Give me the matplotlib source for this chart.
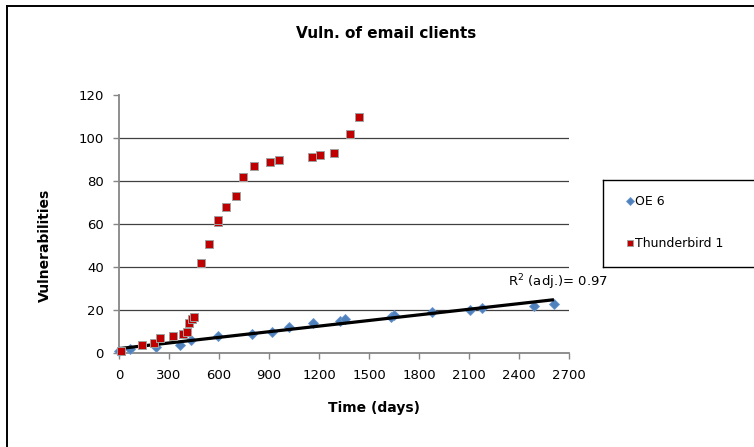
import numpy as np
import matplotlib
matplotlib.use("Agg")
import matplotlib.pyplot as plt
from matplotlib.lines import Line2D

# ---- data ----
oe6_days = [2, 66, 220, 366, 430, 595, 796, 919, 1017, 1161, 1325, 1357,
            1631, 1651, 1875, 2105, 2177, 2488, 2608]
oe6_vulns = [1, 2, 3, 4, 6, 8, 9, 10, 12, 14, 15, 16, 17, 18, 19, 20, 21, 22, 23]

tb_days = [10, 140, 212, 248, 326, 382, 406, 418, 436, 451, 490, 540, 592, 592,
           643, 700, 742, 809, 904, 959, 1159, 1203, 1289, 1387, 1437]
tb_vulns = [1, 4, 5, 7, 8, 9, 10, 14, 16, 17, 42, 51, 61, 62,
            68, 73, 82, 87, 89, 90, 91, 92, 93, 102, 110]

x_ticks = list(range(0, 2701, 300))
y_ticks = list(range(0, 121, 20))
series_labels = ["OE 6", "Thunderbird 1"]
title = "Vuln. of email clients"
x_label = "Time (days)"
y_label = "Vulnerabilities"
r2_text = "R$^2$ (adj.)= 0.97"

W, H = 754, 447
fig = plt.figure(figsize=(W / 100, H / 100), dpi=100)
plt.rcParams['font.family'] = ['DejaVu Sans']

def fx(px):
    return px / W

def fy(py):
    return 1 - py / H

# outer frame (left and top visible)
fig.add_artist(Line2D([fx(7), fx(7)], [fy(6), -0.1], transform=fig.transFigure,
                      color='black', lw=1.4))
fig.add_artist(Line2D([fx(7), 1.1], [fy(6), fy(6)], transform=fig.transFigure,
                      color='black', lw=1.4))

ax_l, ax_r, ax_t, ax_b = 119, 569.3, 95, 353.3
ax = fig.add_axes([fx(ax_l), fy(ax_b), (ax_r - ax_l) / W, (ax_b - ax_t) / H])
ax.set_xlim(0, 2700)
ax.set_ylim(0, 120)
ax.set_xticks(x_ticks)
ax.set_yticks(y_ticks)

# gridlines (no line at top)
for yv in y_ticks[1:-1]:
    ax.axhline(yv, color='#404040', lw=0.9, zorder=1)

for s in ['top', 'right']:
    ax.spines[s].set_visible(False)
for s in ['left', 'bottom']:
    ax.spines[s].set_color('#868686')
    ax.spines[s].set_linewidth(1.3)
ax.tick_params(axis='both', direction='out', length=4, width=1, color='#868686',
               labelsize=9.5, labelcolor='black')
ax.tick_params(axis='x', pad=7)
ax.tick_params(axis='y', pad=7)

oe_color = '#4F81BD'
tb_color = '#C00000'

h1, = ax.plot(oe6_days, oe6_vulns, linestyle='none', marker='D', ms=5.5,
              markerfacecolor=oe_color, markeredgecolor='#6A96CC', mew=0.6,
              zorder=3, clip_on=False)

coef = np.polyfit(oe6_days, oe6_vulns, 1)
xs = np.array([0, max(oe6_days)])
ax.plot(xs, np.polyval(coef, xs), color='black', lw=2.3, zorder=4,
        solid_capstyle='butt')

h2, = ax.plot(tb_days, tb_vulns, linestyle='none', marker='s', ms=6.2,
              markerfacecolor=tb_color, markeredgecolor='#A0A0A0', mew=0.7,
              zorder=5, clip_on=False)

ax.text(2332, 33.1, r2_text, fontsize=9.5, ha='left', va='center')

fig.text(fx(386), fy(33), title, fontsize=11, fontweight='bold',
         ha='center', va='center')
fig.text(fx(374), fy(408), x_label, fontsize=10, fontweight='bold',
         ha='center', va='center')
fig.text(fx(44.5), fy(245), y_label, fontsize=10, fontweight='bold',
         ha='center', va='center', rotation=90)

# legend box (right side open, cropped)
lb_l, lb_t, lb_b = 603, 180, 267
fig.add_artist(Line2D([fx(lb_l), fx(lb_l)], [fy(lb_t), fy(lb_b)],
                      transform=fig.transFigure, color='black', lw=1.0))
fig.add_artist(Line2D([fx(lb_l), 1.05], [fy(lb_t), fy(lb_t)],
                      transform=fig.transFigure, color='black', lw=1.0))
fig.add_artist(Line2D([fx(lb_l), 1.05], [fy(lb_b), fy(lb_b)],
                      transform=fig.transFigure, color='black', lw=1.0))

fig.legend([h1, h2], series_labels, loc='upper left',
           bbox_to_anchor=(fx(626), fy(195)), frameon=False, fontsize=9,
           borderpad=0, borderaxespad=0, handlelength=0.6, handletextpad=0.15,
           labelspacing=2.35, markerscale=0.8)

fig.savefig('out.png', dpi=100)
